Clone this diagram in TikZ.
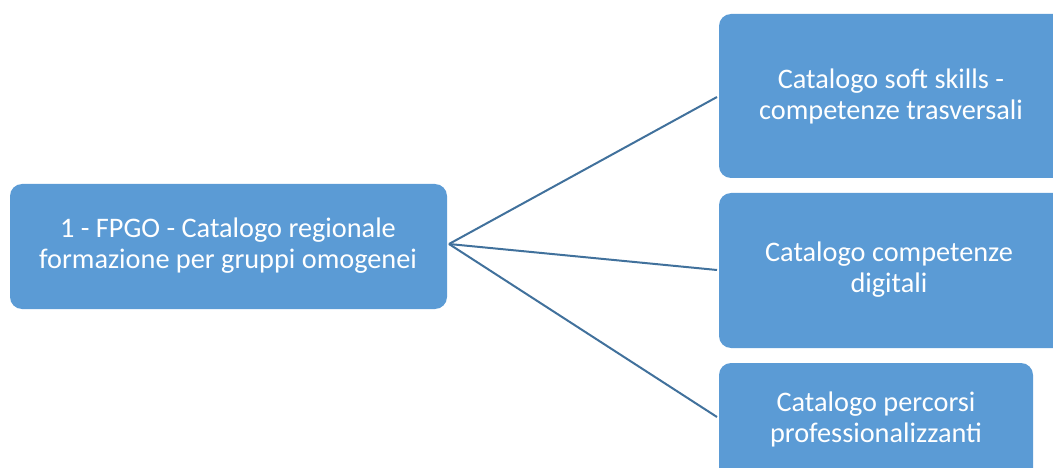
\documentclass[tikz,border=0pt]{standalone}
\usepackage{fontspec}
\setmainfont{Carlito}
\definecolor{boxblue}{HTML}{5B9BD5}
\definecolor{lineblue}{HTML}{41719C}
\begin{document}
\begin{tikzpicture}[x=1pt,y=-1pt,
  box/.style={fill=boxblue,draw=none,rounded corners=12pt},
  lbl/.style={text=white,align=center,font=\fontsize{28.3}{31}\selectfont,inner sep=0pt},
  conn/.style={draw=lineblue,line width=2pt}]
\useasboundingbox (0,0) rectangle (1053,468);
\fill[box] (10,184) rectangle (447,309);
\fill[box] (719,14) rectangle (1066,178);
\fill[box] (719,193) rectangle (1066,348);
\fill[box] (719,363) rectangle (1033,490);
\coordinate (src) at (449,244);
\coordinate (t1) at (717,97);
\coordinate (t2) at (717,270);
\coordinate (t3) at (717,417);
\node[lbl] (a) at (228,246) {1 - FPGO - Catalogo regionale\\formazione per gruppi omogenei};
\node[lbl] (b) at (891,96) {Catalogo soft skills -\\competenze trasversali};
\node[lbl] (c) at (889,270) {Catalogo  competenze\\digitali};
\node[lbl] (d) at (876,419) {Catalogo  percorsi\\professionalizzanti};
\draw[conn] (src) -- (t1);
\draw[conn] (src) -- (t2);
\draw[conn] (src) -- (t3);
\end{tikzpicture}
\end{document}
